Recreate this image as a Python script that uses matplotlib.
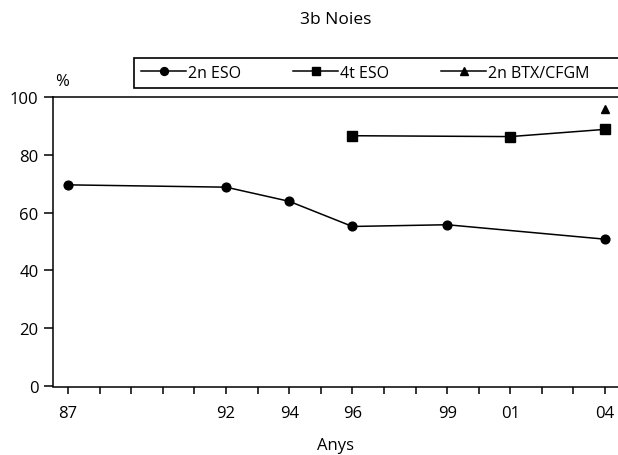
import matplotlib
matplotlib.use("Agg")
import matplotlib.pyplot as plt
import matplotlib.ticker as ticker
from matplotlib.lines import Line2D

YEARS_ESO2 = [1987, 1992, 1994, 1996, 1999, 2004]
ESO2 = [69.6, 68.8, 63.9, 55.2, 55.8, 50.8]
YEARS_ESO4 = [1996, 2001, 2004]
ESO4 = [86.6, 86.3, 88.8]
YEARS_BTX = [2004]
BTX = [96.0]

LABELED_YEARS = [1987, 1992, 1994, 1996, 1999, 2001, 2004]
SERIES_LABELS = ["2n ESO", "4t ESO", "2n BTX/CFGM"]
TITLE = "3b Noies"

plt.rcParams["font.family"] = ["Open Sans", "DejaVu Sans"]
plt.rcParams["font.size"] = 12

fig = plt.figure(figsize=(6.18, 4.56), dpi=100)
ax = fig.add_axes([53 / 618, 1 - 387 / 456, 1 - 53 / 618, (387 - 98) / 456])

h1, = ax.plot(YEARS_ESO2, ESO2, color="black", lw=1.1, marker="o", ms=6.3, label=SERIES_LABELS[0])
h2, = ax.plot(YEARS_ESO4, ESO4, color="black", lw=1.1, marker="s", ms=7, label=SERIES_LABELS[1])
h3, = ax.plot(YEARS_BTX, BTX, color="black", lw=1.1, marker="^", ms=6.3, label=SERIES_LABELS[2])

ax.set_xlim(1986.52, 2004.41)
ax.set_ylim(0, 100)
ax.set_yticks(range(0, 101, 20))

ax.set_xticks(range(1987, 2005))
ax.xaxis.set_major_formatter(
    ticker.FuncFormatter(lambda x, pos: f"{int(round(x)) % 100:02d}" if int(round(x)) in LABELED_YEARS else "")
)
ax.tick_params(axis="x", direction="out", length=5, width=1.1, pad=8)
ax.tick_params(axis="y", direction="out", length=6.5, width=1.1, pad=4)
ax.spines["right"].set_visible(False)
for s in ["left", "top", "bottom"]:
    ax.spines[s].set_linewidth(1.1)
ax.spines["bottom"].set_position(("outward", 1))

ax.set_xlabel("Anys", labelpad=11)
ax.text(0.003, 1.055, "%", transform=ax.transAxes, ha="left", va="center")

fig.text(336 / 618, 1 - 20 / 456, TITLE, ha="center", va="center", fontsize=12.5)

# empty 4th entry only stretches the frame past the right edge, like the original
spacer = Line2D([], [], linestyle="none")
leg = fig.legend(
    [h1, h2, h3, spacer],
    SERIES_LABELS + [" "],
    loc="lower left",
    bbox_to_anchor=(134 / 618, 1 - 89 / 456),
    ncol=4,
    fontsize=11.5,
    markerscale=0.9,
    handlelength=2.8,
    handletextpad=0.1,
    columnspacing=3.3,
    borderpad=0.45,
    borderaxespad=0,
    frameon=True,
    fancybox=False,
    framealpha=1,
    edgecolor="black",
)
leg.get_frame().set_linewidth(1.2)

fig.savefig("out.png", dpi=100)
